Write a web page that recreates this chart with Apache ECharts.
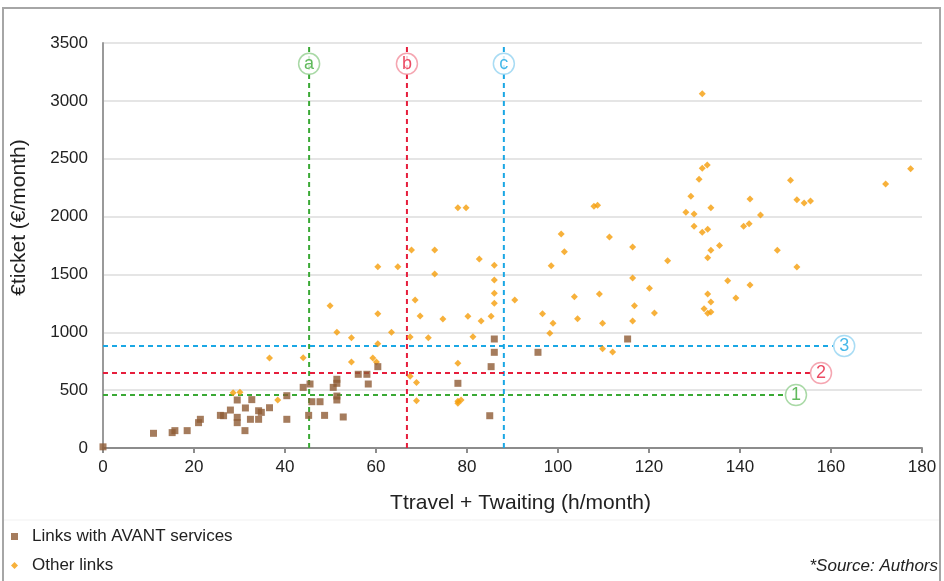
<!DOCTYPE html>
<html>
<head>
<meta charset="utf-8">
<script src="https://cdn.jsdelivr.net/npm/echarts@6/dist/echarts.min.js"></script>
<style>
  html, body { margin: 0; padding: 0; background: #fff; }
  #chart { width: 944px; height: 581px; }
</style>
</head>
<body>
<div id="chart"></div>
<script>
// Links served by AVANT: [Ttravel + Twaiting (h/month), €ticket (€/month)]
const avantLinks = [
  [0, 10], [11.1, 127], [15.2, 133], [15.8, 150], [18.5, 150], [21.0, 219], [21.4, 248],
  [25.8, 282], [26.5, 279], [28.0, 328], [29.5, 415], [29.5, 265], [29.5, 219], [31.2, 150],
  [31.3, 346], [32.4, 248], [32.7, 418], [34.2, 322], [34.8, 308], [34.2, 248], [36.6, 348],
  [40.4, 452], [40.4, 248], [44.0, 524], [45.5, 553], [45.2, 282], [45.9, 400], [47.7, 400],
  [48.7, 282], [50.6, 524], [51.4, 594], [51.4, 559], [51.4, 449], [51.4, 415], [52.8, 268],
  [56.1, 637], [58.0, 637], [58.3, 553], [60.4, 703], [78.0, 559], [85.0, 279], [85.3, 703],
  [86.0, 827], [86.0, 942], [95.6, 827], [115.3, 942]
];

// All remaining links
const otherLinks = [
  [28.6, 478], [30.1, 481], [36.6, 778], [38.4, 415], [44.0, 780],
  [49.9, 1230], [51.4, 1000], [54.6, 953], [54.6, 743], [59.3, 778], [60.1, 743],
  [60.4, 1567], [60.4, 1161], [60.4, 901], [63.4, 1000], [64.8, 1567],
  [67.5, 959], [67.5, 620], [67.8, 1711], [68.6, 1279], [68.9, 565], [68.9, 409],
  [69.7, 1141], [71.5, 953], [72.9, 1711], [72.9, 1504], [74.7, 1115],
  [78.0, 2077], [79.8, 2077], [78.0, 732], [78.0, 403], [78.7, 415], [78.0, 386],
  [80.2, 1138], [81.3, 962], [82.7, 1633], [83.1, 1098], [85.3, 1138],
  [86.0, 1579], [86.0, 1452], [86.0, 1337], [86.0, 1251], [90.5, 1279],
  [96.6, 1161], [98.2, 991], [98.5, 1576], [98.9, 1078], [100.7, 1850], [101.4, 1697],
  [103.6, 1308], [104.3, 1118], [107.9, 2089], [108.7, 2098], [109.1, 1331],
  [109.8, 1078], [109.8, 858], [111.3, 1824], [112.0, 830],
  [116.4, 1737], [116.4, 1469], [116.4, 1098], [116.8, 1230], [120.1, 1380],
  [121.2, 1167], [124.1, 1619],
  [128.1, 2037], [129.2, 2175], [129.9, 2022], [129.9, 1916], [131.0, 2322],
  [131.7, 3062], [131.7, 2417], [131.7, 1864], [132.1, 1204], [132.8, 2446],
  [132.9, 1890], [132.9, 1645], [132.9, 1331], [132.9, 1164], [133.6, 2077],
  [133.6, 1709], [133.6, 1262], [133.6, 1175], [135.5, 1749], [137.3, 1446],
  [139.1, 1296], [140.8, 1916], [142.0, 1939], [142.2, 2152], [142.2, 1409],
  [144.5, 2014], [148.2, 1709], [151.1, 2314], [152.5, 2146], [152.5, 1564],
  [154.1, 2117], [155.5, 2135], [172.0, 2282], [177.5, 2414]
];

// Axis ranges and tick steps
const xRange = [0, 180];
const xStep = 20;
const yRange = [0, 3500];
const yStep = 500;

// Vertical thresholds (h/month) labelled a, b, c
const vLineX = [45.3, 66.8, 88.1];
const vLineNames = ['a', 'b', 'c'];
const vLineTop = 3465;
const vLabelY = 3320;

// Horizontal thresholds (€/month) labelled 1, 2, 3
const hLineY = [458, 648, 882];
const hLineEnd = [149.9, 155.4, 160.4];
const hLabelX = [152.3, 157.8, 162.9];
const hLineNames = ['1', '2', '3'];

const lineColors = ['#3aa935', '#e61e3c', '#1aa7e4'];
const ringColors = ['#93cf90', '#f2909e', '#93d3f1'];

const FONT = 'Liberation Sans, Arial, sans-serif';

const chart = echarts.init(document.getElementById('chart'), null, { renderer: 'canvas' });

const guideSeries = [];
vLineX.forEach((x, i) => {
  guideSeries.push({
    type: 'line', silent: true, symbol: 'none', z: 1,
    data: [[x, yRange[0]], [x, vLineTop]],
    lineStyle: { color: lineColors[i], width: 2, type: [5, 4] }
  });
});
hLineY.forEach((y, i) => {
  guideSeries.push({
    type: 'line', silent: true, symbol: 'none', z: 1,
    data: [[xRange[0], y], [hLineEnd[i], y]],
    lineStyle: { color: lineColors[i], width: 2, type: [5, 4] }
  });
});

const ringStyle = (name, i) => ({
  value: null, name,
  itemStyle: { color: '#fff', borderColor: ringColors[i], borderWidth: 1.5 },
  label: {
    show: true, position: 'inside', formatter: name,
    color: lineColors[i], fontSize: 18, fontFamily: FONT
  }
});

const ringData = [];
vLineX.forEach((x, i) => {
  const d = ringStyle(vLineNames[i], i);
  d.value = [x, vLabelY];
  ringData.push(d);
});
hLineY.forEach((y, i) => {
  const d = ringStyle(hLineNames[i], i);
  d.value = [hLabelX[i], y];
  ringData.push(d);
});

chart.setOption({
  animation: false,
  backgroundColor: '#fff',
  textStyle: { fontFamily: FONT },
  grid: { left: 103, right: 22, top: 43, bottom: 133, containLabel: false },
  xAxis: {
    type: 'value', min: xRange[0], max: xRange[1], interval: xStep,
    name: 'Ttravel + Twaiting (h/month)', nameLocation: 'middle', nameGap: 45,
    nameTextStyle: { fontSize: 21, color: '#222', fontFamily: FONT, padding: [0, 0, 0, 16] },
    axisLine: { show: true, onZero: false, lineStyle: { color: '#8c8c8c', width: 2 } },
    axisTick: { show: true, length: 5, lineStyle: { color: '#8c8c8c', width: 2 } },
    axisLabel: { fontSize: 17, color: '#222', margin: 11, fontFamily: FONT },
    splitLine: { show: false }
  },
  yAxis: {
    type: 'value', min: yRange[0], max: yRange[1], interval: yStep,
    name: '€ticket (€/month)', nameLocation: 'middle', nameGap: 73,
    nameTextStyle: { fontSize: 21, color: '#222', fontFamily: FONT, padding: [0, 0, 0, 56] },
    axisLine: { show: true, lineStyle: { color: '#9a9a9a', width: 2 } },
    axisTick: { show: false },
    axisLabel: {
      fontSize: 17, color: '#222', margin: 15, fontFamily: FONT,
      formatter: (v) => String(v)
    },
    splitLine: { show: true, lineStyle: { color: '#dcdcdc', width: 1.5 } }
  },
  legend: {
    orient: 'vertical', left: 11, top: 528, itemGap: 12, padding: 0,
    itemWidth: 7, itemHeight: 7,
    textStyle: { fontSize: 17, color: '#222', fontFamily: FONT, padding: [0, 0, 0, 9] },
    data: [
      { name: 'Links with AVANT services', icon: 'rect' },
      { name: 'Other links', icon: 'diamond' }
    ]
  },
  graphic: [
    {
      type: 'rect', silent: true, z: -10,
      shape: { x: 3, y: 8, width: 937, height: 600 },
      style: { fill: 'none', stroke: '#a6a6a6', lineWidth: 2 }
    },
    {
      type: 'line', silent: true, z: -10,
      shape: { x1: 4, y1: 520, x2: 939, y2: 520 },
      style: { stroke: '#f1f1f1', lineWidth: 1 }
    },
    {
      type: 'text', right: 6, top: 558, silent: true,
      style: {
        text: '*Source: Authors', fontSize: 17, fontStyle: 'italic',
        fill: '#222', fontFamily: FONT
      }
    }
  ],
  series: [
    ...guideSeries,
    {
      name: 'Other links', type: 'scatter', symbol: 'diamond', symbolSize: 7, z: 3,
      itemStyle: { color: '#f59d0a' },
      data: otherLinks
    },
    {
      name: 'Links with AVANT services', type: 'scatter', symbol: 'rect', symbolSize: 7, z: 4,
      itemStyle: { color: '#8e5b35' },
      data: avantLinks
    },
    {
      type: 'scatter', silent: true, symbol: 'circle', symbolSize: 21, z: 5,
      data: ringData
    }
  ]
});
</script>
</body>
</html>
